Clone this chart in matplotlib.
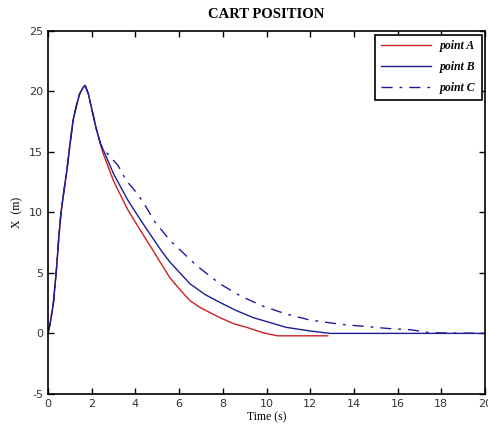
import matplotlib
matplotlib.use("Agg")
import matplotlib.pyplot as plt

plt.rcParams["axes.unicode_minus"] = False

# shared rising part (all three points overlap until ~2.4 s)
t_rise = [0, 0.1, 0.25, 0.4, 0.5, 0.6, 0.75, 0.87, 1.0, 1.15, 1.3, 1.45, 1.6, 1.7, 1.85, 2.05, 2.2, 2.4]
x_rise = [0, 0.8, 2.5, 5.5, 8.0, 10.0, 12.0, 13.5, 15.5, 17.6, 18.8, 19.8, 20.3, 20.5, 19.8, 18.2, 17.0, 15.7]

t_a = [2.5, 3.0, 3.66, 4.2, 4.76, 5.2, 5.58, 6.0, 6.5, 7.0, 7.87, 8.5, 9.1, 9.84, 10.5, 12.8]
x_a = [15.0, 12.6, 10.2, 8.6, 7.0, 5.7, 4.6, 3.7, 2.7, 2.1, 1.3, 0.8, 0.5, 0.05, -0.2, -0.2]

t_b = [2.55, 3.0, 3.66, 4.3, 5.2, 5.58, 6.5, 7.2, 7.87, 8.6, 9.4, 10.9, 12.0, 12.9, 20.0]
x_b = [15.1, 13.2, 11.0, 9.2, 6.8, 5.9, 4.1, 3.2, 2.56, 1.9, 1.3, 0.5, 0.2, 0.0, 0.0]

t_c = [2.5, 3.0, 3.2, 3.6, 4.07, 4.44, 4.9, 5.58, 6.8, 7.87, 8.8, 9.84, 10.9, 12.0, 13.4, 15.6, 16.6, 17.5, 20.0]
x_c = [15.3, 14.3, 13.9, 12.6, 11.6, 10.6, 9.2, 7.7, 5.6, 4.1, 3.1, 2.25, 1.6, 1.1, 0.75, 0.4, 0.3, 0.05, 0.0]

red = "#cc2020"
blue = "#1c1c96"

fig = plt.figure(figsize=(4.89, 4.30), dpi=100)
ax = fig.add_axes([0.098, 0.084, 0.894, 0.844])

ax.plot(t_rise + t_a, x_rise + x_a, color=red, lw=1.0, label="point A")
ax.plot(t_rise + t_b, x_rise + x_b, color=blue, lw=1.0, label="point B")
ax.plot(t_rise + t_c, x_rise + x_c, color=blue, lw=1.0, dashes=(8, 5, 2, 5), label="point C")

ax.set_xlim(0, 20)
ax.set_ylim(-5, 25)
ax.set_xticks(range(0, 21, 2))
ax.set_yticks(range(-5, 26, 5))
ax.tick_params(direction="in", top=True, right=True, labelsize=8, length=4, width=1,
               labelcolor="#333333")
for s in ax.spines.values():
    s.set_linewidth(1.2)

ax.set_title("CART POSITION", fontsize=10.5, fontweight="bold", family="Liberation Serif", pad=9)
ax.set_xlabel("Time (s)", fontsize=8.5, family="Liberation Serif", labelpad=2)
ax.set_ylabel("X  (m)", fontsize=8.5, family="Liberation Serif", labelpad=4)

leg = ax.legend(loc="upper right", fancybox=False, framealpha=1, edgecolor="black",
                prop={"family": "Liberation Serif", "style": "italic", "weight": "bold", "size": 8.5},
                handlelength=4.2, labelspacing=0.75, borderaxespad=0.3, borderpad=0.5)
leg.get_frame().set_linewidth(1.2)

fig.savefig("out.png", dpi=100)
